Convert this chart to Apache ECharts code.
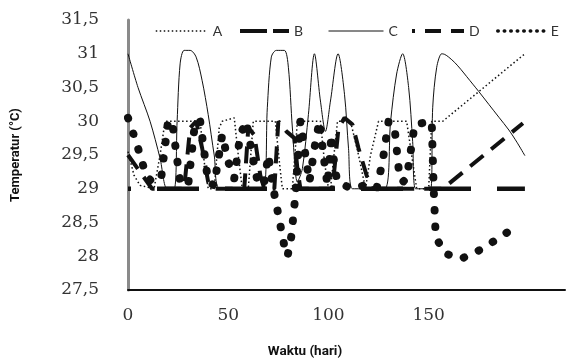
<!DOCTYPE html>
<html>
<head>
<meta charset="utf-8">
<script src="https://cdn.jsdelivr.net/npm/echarts@6.0.0/dist/echarts.min.js"></script>
<style>
html, body { margin: 0; padding: 0; background: #fff; }
#main { width: 568px; height: 362px; }
</style>
</head>
<body>
<div id="main"></div>
<script>
// [hari, suhu]
const seriesA = [[0, 29.55], [3, 29.2], [6, 29.05], [13, 29.0], [16, 29.5], [18.5, 30.0], [36, 30.0], [38, 29.4], [40, 29.0], [43, 29.0],
  [45.5, 29.9], [47, 30.0], [53, 30.05], [55, 29.5], [57, 29.0], [60, 29.0], [62.5, 30.0], [73.5, 30.0], [75.5, 29.4], [77, 29.0],
  [82, 29.0], [84.5, 30.0], [96, 30.0], [98, 29.4], [100, 29.0], [101, 29.0], [104.5, 30.0], [111, 30.0], [115, 29.5], [118.5, 29.0],
  [121, 29.5], [125, 30.0], [139, 30.0], [141.5, 29.5], [144, 29.0], [150, 29.0], [151.5, 30.0], [157, 30.0], [198, 31.0]];
const seriesB = [[0, 29.0], [198, 29.0]];
const seriesC = [[0, 31.0], [5, 30.5], [11, 30.0], [16, 29.45], [19.5, 29.0], [23, 29.0], [24.5, 30.0], [26, 30.85], [28, 31.05], [31, 31.05],
  [34, 30.95], [37, 30.6], [40, 30.1], [43, 29.5], [46, 29.0], [67.5, 29.0], [69.5, 30.2], [71.5, 30.95], [74, 31.05], [78, 31.05],
  [80, 30.8], [82, 29.9], [84.5, 29.1], [87, 29.3], [90, 30.1], [93, 31.0], [96, 30.3], [98.5, 29.85], [101, 30.3], [104.8, 31.0],
  [108, 30.4], [110, 29.6], [112, 29.0], [128, 29.0], [131, 30.0], [134, 30.7], [137, 31.0], [140, 30.5], [142, 29.7], [143.5, 29.0],
  [151, 29.0], [152, 30.2], [154, 30.8], [156.5, 31.0], [158, 30.99], [160, 30.95], [163, 30.87], [166, 30.77], [169, 30.66], [172, 30.55],
  [175, 30.44], [180, 30.25], [185, 30.06], [190, 29.87], [194, 29.69], [198, 29.49]];
const seriesD = [[0, 29.5], [6, 29.25], [12, 29.0], [28, 29.0], [31, 29.9], [34, 30.0], [37, 29.6], [40, 29.1], [43, 29.0], [58, 29.0],
  [60, 29.9], [63, 29.8], [66, 29.2], [68, 29.0], [73, 29.0], [75, 30.0], [79, 29.85], [83, 29.75], [84.5, 29.3], [86, 29.0],
  [102, 29.0], [105, 29.9], [108, 30.05], [112, 29.95], [115, 29.6], [119, 29.2], [122, 29.0], [157, 29.0], [197, 29.97]];
const seriesE = [[0, 30.05], [4, 29.7], [9, 29.2], [12, 29.1], [16.5, 29.15], [20, 30.0], [22, 30.0], [26, 29.1], [30, 29.05], [33.5, 30.0],
  [36, 30.0], [40, 29.1], [43, 29.05], [47, 29.8], [50, 29.4], [53, 29.15], [56, 29.8], [59, 30.0], [62, 29.5], [65, 29.05],
  [68, 29.1], [70, 29.5], [72.5, 29.0], [78, 28.15], [79.6, 28.0], [81.5, 28.3], [83.5, 28.9], [86, 30.0], [88, 29.6], [90.5, 29.1],
  [93, 29.6], [95.5, 30.0], [97.5, 29.5], [99.5, 29.05], [101.5, 29.8], [103, 29.3], [104.6, 29.1], [111.6, 29.0], [118, 29.05], [124, 29.0],
  [127, 29.4], [130, 30.0], [133, 29.9], [135, 29.3], [137, 29.1], [139, 29.15], [143, 29.95], [151.5, 30.0], [152.5, 29.0], [153.5, 28.3],
  [157.5, 28.05], [166, 27.96], [176, 28.1], [185, 28.27], [194, 28.45]];
const xTicks = [0, 50, 100, 150];

const ink = '#111';
const textSerif = { fontFamily: 'DejaVu Serif', fontSize: 17, color: '#333' };
const legendText = { fontFamily: 'Lato', fontSize: 14, color: '#333' };

function makeLine(name, data, lineStyle, extra) {
  return Object.assign({
    name: name,
    type: 'line',
    data: data,
    symbol: 'none',
    showSymbol: false,
    itemStyle: { color: ink },
    lineStyle: Object.assign({ color: ink }, lineStyle)
  }, extra || {});
}

function makeLegend(name, left, width, lineStyle) {
  return {
    left: left, top: 24, padding: 0,
    itemWidth: width, itemHeight: 14,
    textStyle: legendText,
    data: [{
      name: name,
      itemStyle: { opacity: 0 },
      lineStyle: Object.assign({ color: ink, opacity: 1 }, lineStyle)
    }]
  };
}

let myChart = echarts.init(document.getElementById('main'));
myChart.setOption({
  animation: false,
  backgroundColor: '#fff',
  grid: { left: 128, right: 0, top: 20, bottom: 72 },
  legend: [
    makeLegend('A', 155, 52, { width: 1.5, type: [1.5, 2.5] }),
    makeLegend('B', 238, 49, { width: 4, type: [30, 6] }),
    makeLegend('C', 328, 55, { width: 1 }),
    makeLegend('D', 410, 52, { width: 4, type: [16, 10] }),
    makeLegend('E', 496, 48, { width: 3.5, type: [0.5, 6], cap: 'round' })
  ],
  xAxis: {
    type: 'value', min: 0, max: 218, interval: 50,
    axisLine: { lineStyle: { color: ink, width: 2 } },
    axisTick: { show: false },
    splitLine: { show: false },
    axisLabel: Object.assign({ margin: 17, formatter: v => xTicks.indexOf(v) >= 0 ? String(v) : '' }, textSerif)
  },
  yAxis: {
    type: 'value', min: 27.5, max: 31.5, interval: 0.5,
    name: 'Temperatur (°C)', nameLocation: 'middle', nameGap: 106, nameRotate: 90,
    nameTextStyle: { fontFamily: 'Roboto', fontWeight: 'bold', fontSize: 13, color: ink },
    axisLine: { show: true, lineStyle: { color: '#8a8a8a', width: 3 } },
    axisTick: { show: false },
    splitLine: { show: false },
    axisLabel: Object.assign({ margin: 29, formatter: v => String(v).replace('.', ',') }, textSerif)
  },
  graphic: [{
    type: 'text', x: 305, y: 352,
    style: { text: 'Waktu (hari)', textAlign: 'center', textVerticalAlign: 'middle',
      font: 'bold 13.5px Roboto', fill: ink }
  }],
  series: [
    makeLine('A', seriesA, { width: 1.5, type: [1.5, 2.5] }),
    makeLine('B', seriesB, { width: 4.5, type: [42, 26], dashOffset: 39 }),
    makeLine('C', seriesC, { width: 1 }, { smooth: 0.3 }),
    makeLine('D', seriesD, { width: 4, type: [17, 10] }),
    makeLine('E', seriesE, { width: 8, type: [0.5, 16], cap: 'round' })
  ]
});
</script>
</body>
</html>
